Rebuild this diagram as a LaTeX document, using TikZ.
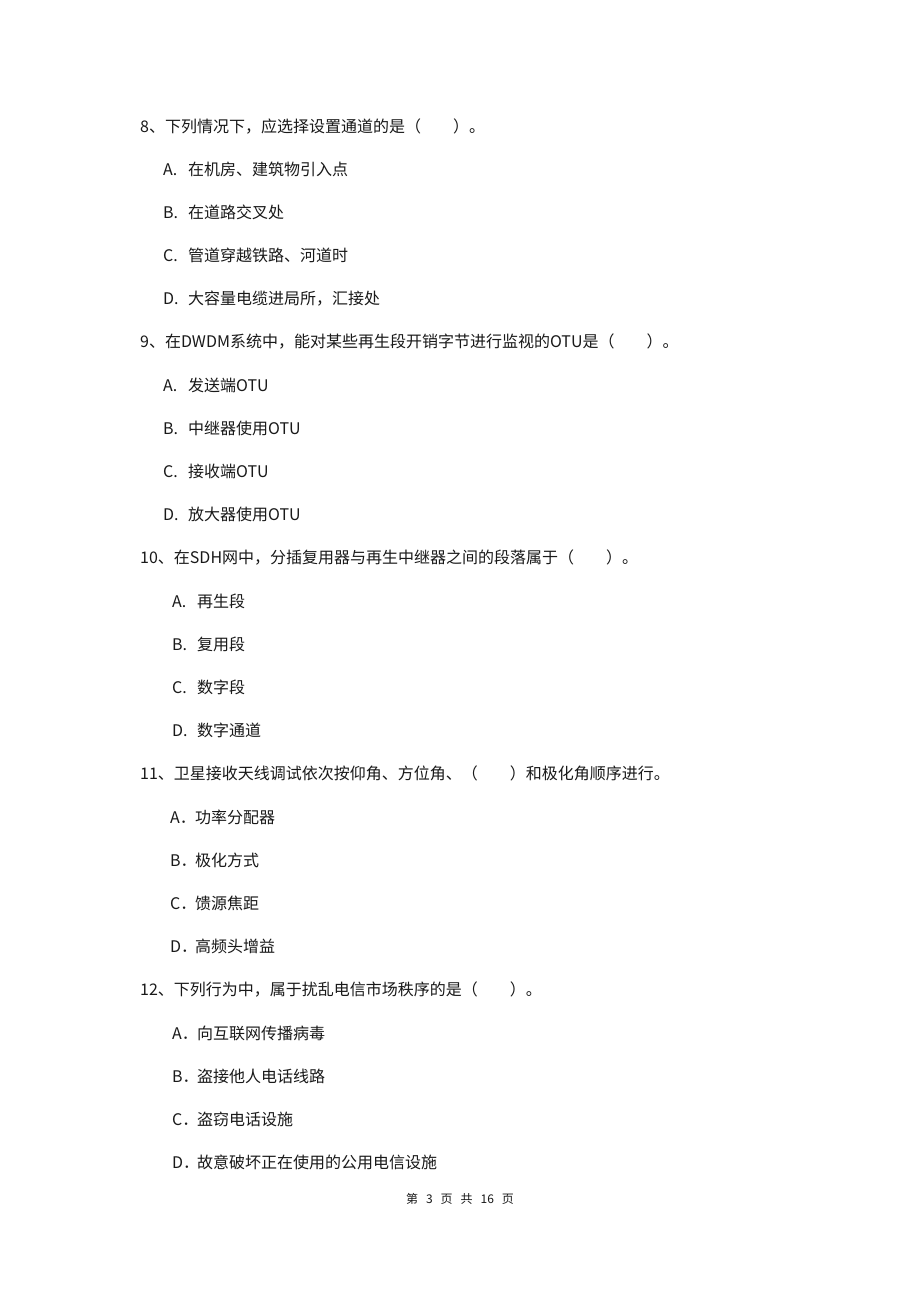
\documentclass[tikz,border=0pt]{standalone}
\usepackage{fontspec}
\newfontfamily\cjk{Noto Sans CJK SC}
\usepackage{tikz}
\usetikzlibrary{positioning}
\newcommand{\optlab}[1]{\makebox[25pt][l]{#1}}
\newcommand{\blank}{（\hspace{32pt}）}

\begin{document}
\begin{tikzpicture}[x=1pt,y=1pt,node distance=26.79pt]
      \tikzstyle{line}=[inner sep=0pt,text height=14pt,text depth=2pt,text=black!90,
                        font=\fontsize{16}{18}\cjk]
      \tikzstyle{ques}=[line,anchor=west]
      \tikzstyle{opt}=[line]
      \tikzstyle{under}=[below=of #1.south west,anchor=north west]

      \useasboundingbox (0,0) rectangle (920,-1302);
      \fill[white] (0,0) rectangle (920,-1302);

      \node[ques]  (q8)   at (140,-126)          {8、下列情况下，应选择设置通道的是\blank。};
      \node[opt]   (q8a)  [under=q8,xshift=23pt]  {\optlab{A.}在机房、建筑物引入点};
      \node[opt]   (q8b)  [under=q8a]             {\optlab{B.}在道路交叉处};
      \node[opt]   (q8c)  [under=q8b]             {\optlab{C.}管道穿越铁路、河道时};
      \node[opt]   (q8d)  [under=q8c]             {\optlab{D.}大容量电缆进局所，汇接处};

      \node[ques]  (q9)   [under=q8d,xshift=-23pt] {9、在DWDM系统中，能对某些再生段开销字节进行监视的OTU是\blank。};
      \node[opt]   (q9a)  [under=q9,xshift=23pt]  {\optlab{A.}发送端OTU};
      \node[opt]   (q9b)  [under=q9a]             {\optlab{B.}中继器使用OTU};
      \node[opt]   (q9c)  [under=q9b]             {\optlab{C.}接收端OTU};
      \node[opt]   (q9d)  [under=q9c]             {\optlab{D.}放大器使用OTU};

      \node[ques]  (q10)  [under=q9d,xshift=-23pt] {10、在SDH网中，分插复用器与再生中继器之间的段落属于\blank。};
      \node[opt]   (q10a) [under=q10,xshift=32pt] {\optlab{A.}再生段};
      \node[opt]   (q10b) [under=q10a]            {\optlab{B.}复用段};
      \node[opt]   (q10c) [under=q10b]            {\optlab{C.}数字段};
      \node[opt]   (q10d) [under=q10c]            {\optlab{D.}数字通道};

      \node[ques]  (q11)  [under=q10d,xshift=-32pt] {11、卫星接收天线调试依次按仰角、方位角、\blank 和极化角顺序进行。};
      \node[opt]   (q11a) [under=q11,xshift=30pt] {\optlab{A．}功率分配器};
      \node[opt]   (q11b) [under=q11a]            {\optlab{B．}极化方式};
      \node[opt]   (q11c) [under=q11b]            {\optlab{C．}馈源焦距};
      \node[opt]   (q11d) [under=q11c]            {\optlab{D．}高频头增益};

      \node[ques]  (q12)  [under=q11d,xshift=-30pt] {12、下列行为中，属于扰乱电信市场秩序的是\blank。};
      \node[opt]   (q12a) [under=q12,xshift=32pt] {\optlab{A．}向互联网传播病毒};
      \node[opt]   (q12b) [under=q12a]            {\optlab{B．}盗接他人电话线路};
      \node[opt]   (q12c) [under=q12b]            {\optlab{C．}盗窃电话设施};
      \node[opt]   (q12d) [under=q12c]            {\optlab{D．}故意破坏正在使用的公用电信设施};

      \node[text=black!90,font=\fontsize{12}{14}\cjk] (foot) at (460,-1199)
            {第\hspace{8pt}3\hspace{8pt}页\hspace{8pt}共\hspace{8pt}16\hspace{8pt}页};
\end{tikzpicture}
\end{document}
